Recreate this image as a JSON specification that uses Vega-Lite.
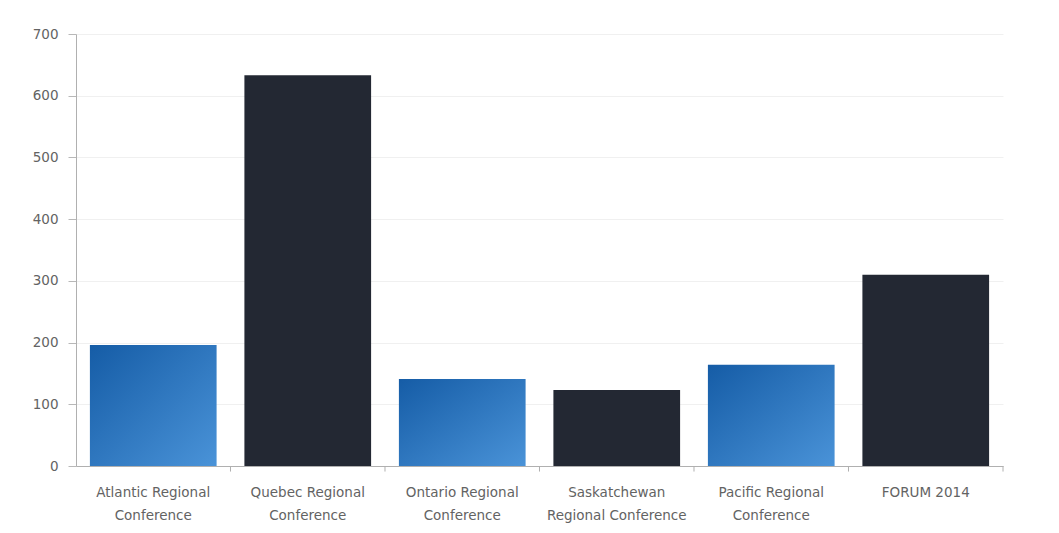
{
  "$schema": "https://vega.github.io/schema/vega-lite/v6.json",
  "width": 927,
  "height": 432,
  "autosize": {"type": "none"},
  "padding": {"left": 76, "top": 34, "right": 56, "bottom": 67},
  "background": "#ffffff",
  "config": {
    "view": {"stroke": null},
    "font": "DejaVu Sans",
    "axis": {"labelFont": "DejaVu Sans", "labelColor": "#636363", "labelFontSize": 13.5}
  },
  "data": {
    "values": [
      {"conference": "Atlantic Regional Conference", "value": 196, "kind": "regional"},
      {"conference": "Quebec Regional Conference", "value": 633, "kind": "other"},
      {"conference": "Ontario Regional Conference", "value": 141, "kind": "regional"},
      {"conference": "Saskatchewan Regional Conference", "value": 123, "kind": "other"},
      {"conference": "Pacific Regional Conference", "value": 164, "kind": "regional"},
      {"conference": "FORUM 2014", "value": 310, "kind": "other"}
    ]
  },
  "encoding": {
    "x": {
      "field": "conference",
      "type": "nominal",
      "sort": ["Atlantic Regional Conference", "Quebec Regional Conference", "Ontario Regional Conference", "Saskatchewan Regional Conference", "Pacific Regional Conference", "FORUM 2014"],
      "scale": {"paddingInner": 0.18, "paddingOuter": 0.09},
      "axis": {
        "title": null,
        "labelAngle": 0,
        "labelPadding": 19,
        "labelLineHeight": 23,
        "ticks": false,
        "domainColor": "#b0b0b0",
        "labelExpr": "indexof(datum.value,'Saskatchewan')==0 ? ['Saskatchewan','Regional Conference'] : (indexof(datum.value,' Conference')>0 ? [replace(datum.value,' Conference',''),'Conference'] : datum.value)"
      }
    },
    "y": {
      "field": "value",
      "type": "quantitative",
      "scale": {"domain": [0, 700], "nice": false},
      "axis": {
        "title": null,
        "values": [0, 100, 200, 300, 400, 500, 600, 700],
        "tickSize": 8,
        "tickColor": "#b8b8b8",
        "domainColor": "#b0b0b0",
        "labelPadding": 10,
        "gridColor": "#f0f0f0",
        "grid": true
      }
    }
  },
  "layer": [
    {
      "transform": [{"filter": "datum.kind == 'regional'"}],
      "mark": {
        "type": "bar",
        "color": {
          "gradient": "linear",
          "x1": 0, "y1": 0, "x2": 1, "y2": 1,
          "stops": [
            {"offset": 0, "color": "#155ca6"},
            {"offset": 1, "color": "#4a93d8"}
          ]
        }
      }
    },
    {
      "transform": [{"filter": "datum.kind == 'other'"}],
      "mark": {"type": "bar", "color": "#232833"}
    },
    {
      "transform": [{"filter": "datum.conference != 'Atlantic Regional Conference'"}],
      "mark": {"type": "rule", "color": "#b0b0b0", "strokeWidth": 1},
      "encoding": {
        "x": {"field": "conference", "type": "nominal", "bandPosition": -0.1098, "sort": ["Atlantic Regional Conference", "Quebec Regional Conference", "Ontario Regional Conference", "Saskatchewan Regional Conference", "Pacific Regional Conference", "FORUM 2014"]},
        "y": {"datum": 0},
        "y2": {"datum": -9}
      }
    },
    {
      "transform": [{"filter": "datum.conference == 'FORUM 2014'"}],
      "mark": {"type": "rule", "color": "#b0b0b0", "strokeWidth": 1},
      "encoding": {
        "x": {"field": "conference", "type": "nominal", "bandPosition": 1.1098, "sort": ["Atlantic Regional Conference", "Quebec Regional Conference", "Ontario Regional Conference", "Saskatchewan Regional Conference", "Pacific Regional Conference", "FORUM 2014"]},
        "y": {"datum": 0},
        "y2": {"datum": -9}
      }
    }
  ]
}
